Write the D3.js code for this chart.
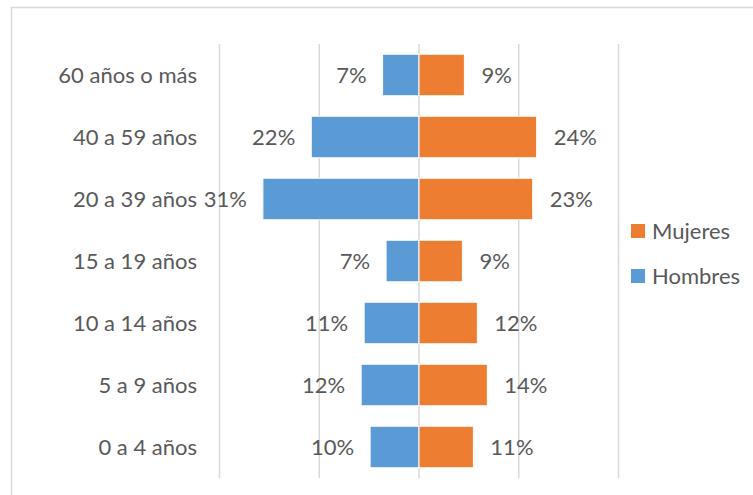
<!DOCTYPE html>
<html>
<head>
<meta charset="utf-8">
<script src="https://cdn.jsdelivr.net/npm/d3@7"></script>
<style>
  html, body { margin: 0; padding: 0; background: #fff; }
  svg { display: block; }
  text { font-family: Lato, "Open Sans", sans-serif; fill: #595959; }
</style>
</head>
<body>
<svg id="chart" width="753" height="495"></svg>
<script>
const categories = ["60 años o más", "40 a 59 años", "20 a 39 años", "15 a 19 años", "10 a 14 años", "5 a 9 años", "0 a 4 años"];
const hombres = [7.3, 21.6, 31.3, 6.6, 11.0, 11.6, 9.8];
const mujeres = [9.1, 23.6, 22.8, 8.7, 11.7, 13.7, 10.9];
const gridTicks = [-40, -20, 0, 20, 40];
const seriesNames = ["Mujeres", "Hombres"];
const seriesColors = {"Mujeres": "#ED7D31", "Hombres": "#5B9BD5"};

const svg = d3.select("#chart");
const fontSize = 22;

// chart border
svg.append("rect")
  .attr("x", 11.5).attr("y", 7.5)
  .attr("width", 760).attr("height", 500)
  .attr("fill", "none").attr("stroke", "#d9d9d9").attr("stroke-width", 1.5);

const x = d3.scaleLinear().domain([-40, 40]).range([219.5, 618.5]);
const y = d3.scaleBand().domain(categories).range([44, 478]).paddingInner(0.33).paddingOuter(0.165);

// gridlines
svg.append("g").selectAll("line").data(gridTicks).join("line")
  .attr("x1", d => x(d)).attr("x2", d => x(d))
  .attr("y1", 44).attr("y2", 478)
  .attr("stroke", "#d9d9d9").attr("stroke-width", 1.5);

// category labels
svg.append("g").selectAll("text").data(categories).join("text")
  .attr("x", 197)
  .attr("y", d => y(d) + y.bandwidth() / 2)
  .attr("dy", "0.35em")
  .attr("text-anchor", "end")
  .style("font-size", fontSize + "px")
  .text(d => d);

const fmt = v => d3.format(".0f")(v) + "%";

// Hombres bars (left)
svg.append("g").selectAll("rect").data(categories).join("rect")
  .attr("x", (d, i) => x(-hombres[i]))
  .attr("y", d => y(d))
  .attr("width", (d, i) => x(0) - x(-hombres[i]))
  .attr("height", y.bandwidth())
  .attr("fill", seriesColors["Hombres"])
  .attr("stroke", "#fff").attr("stroke-width", 1);

// Mujeres bars (right)
svg.append("g").selectAll("rect").data(categories).join("rect")
  .attr("x", x(0))
  .attr("y", d => y(d))
  .attr("width", (d, i) => x(mujeres[i]) - x(0))
  .attr("height", y.bandwidth())
  .attr("fill", seriesColors["Mujeres"])
  .attr("stroke", "#fff").attr("stroke-width", 1);

// labels
svg.append("g").selectAll("text").data(categories).join("text")
  .attr("x", (d, i) => x(-hombres[i]) - 16)
  .attr("y", d => y(d) + y.bandwidth() / 2)
  .attr("dy", "0.35em")
  .attr("text-anchor", "end")
  .style("font-size", fontSize + "px")
  .text((d, i) => fmt(hombres[i]));

svg.append("g").selectAll("text").data(categories).join("text")
  .attr("x", (d, i) => x(mujeres[i]) + 17)
  .attr("y", d => y(d) + y.bandwidth() / 2)
  .attr("dy", "0.35em")
  .attr("text-anchor", "start")
  .style("font-size", fontSize + "px")
  .text((d, i) => fmt(mujeres[i]));

// legend
const legend = svg.append("g").selectAll("g").data(seriesNames).join("g")
  .attr("transform", (d, i) => `translate(631, ${224 + i * 45})`);
legend.append("rect").attr("width", 14).attr("height", 14)
  .attr("fill", d => seriesColors[d]);
legend.append("text").attr("x", 21).attr("y", 7).attr("dy", "0.35em")
  .style("font-size", fontSize + "px")
  .text(d => d);
</script>
</body>
</html>
